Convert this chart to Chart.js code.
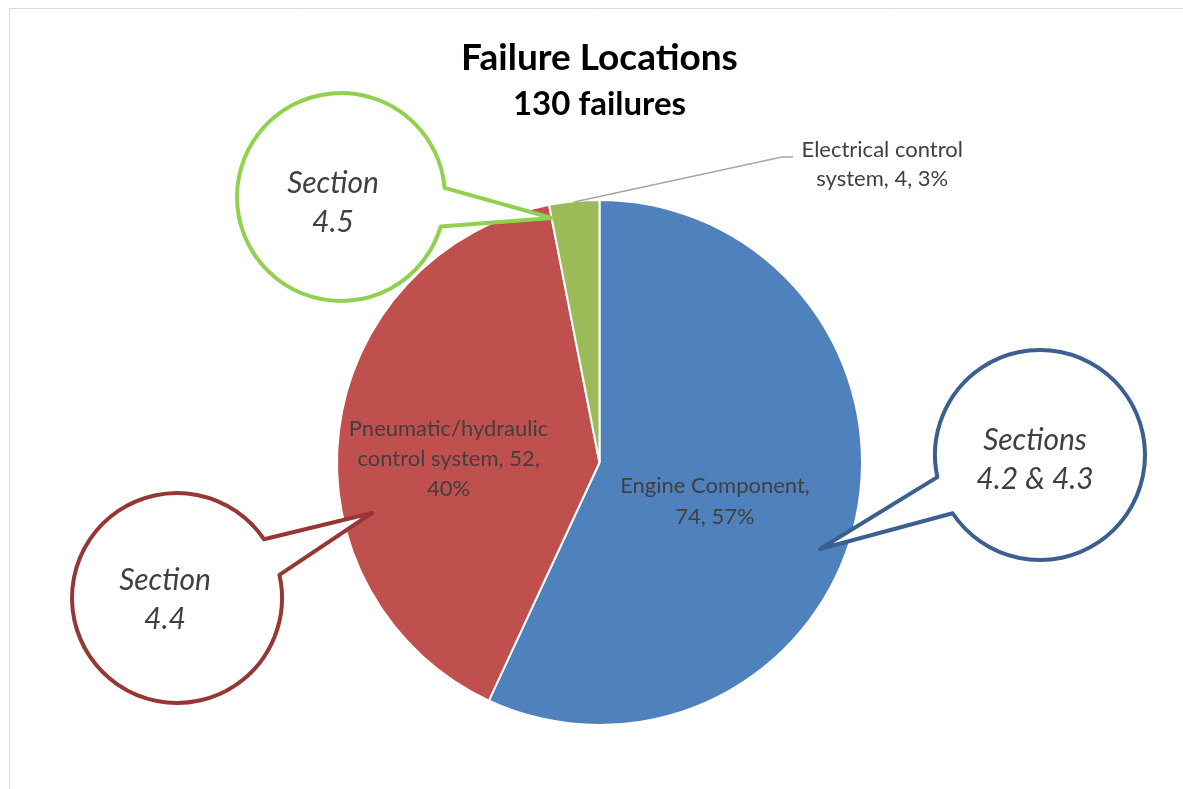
<!DOCTYPE html>
<html>
<head>
<meta charset="utf-8">
<script src="https://cdn.jsdelivr.net/npm/chart.js@4/dist/chart.umd.min.js"></script>
<style>
  html, body { margin: 0; padding: 0; background: #fff; }
  canvas { display: block; }
</style>
</head>
<body>
<canvas id="failureChart" width="1183" height="789"></canvas>
<script>
const categories = ['Engine Component', 'Pneumatic/hydraulic control system', 'Electrical control system'];
const failureCounts = [74, 52, 4];
const sliceColors = ['#4F81BD', '#C0504D', '#9BBB59'];
const titleLines = ['Failure Locations', '130 failures'];
const calloutTexts = [['Sections', '4.2 & 4.3'], ['Section', '4.4'], ['Section', '4.5']];

const totalFailures = failureCounts.reduce((a, b) => a + b, 0);
const labelColor = '#404040';

// wrap "name, count, pct%" into lines no wider than maxWidth
function wrapWords(ctx, text, maxWidth) {
  const words = text.split(' ');
  const lines = [];
  let line = '';
  words.forEach(w => {
    const test = line ? line + ' ' + w : w;
    if (line && ctx.measureText(test).width > maxWidth) {
      lines.push(line);
      line = w;
    } else {
      line = test;
    }
  });
  if (line) lines.push(line);
  return lines;
}

function drawBubble(ctx, c) {
  const a1 = Math.atan2(c.base1[1] - c.y, c.base1[0] - c.x);
  const a2 = Math.atan2(c.base2[1] - c.y, c.base2[0] - c.x);
  let diff = ((a2 - a1) % (2 * Math.PI) + 2 * Math.PI) % (2 * Math.PI);
  ctx.beginPath();
  ctx.moveTo(c.tip[0], c.tip[1]);
  ctx.lineTo(c.x + c.r * Math.cos(a1), c.y + c.r * Math.sin(a1));
  ctx.arc(c.x, c.y, c.r, a1, a2, diff < Math.PI);
  ctx.closePath();
  ctx.fillStyle = '#fff';
  ctx.fill();
  ctx.lineWidth = 4;
  ctx.lineJoin = 'round';
  ctx.strokeStyle = c.color;
  ctx.stroke();

  ctx.fillStyle = labelColor;
  ctx.font = 'italic 30px Lato';
  ctx.textAlign = 'center';
  ctx.textBaseline = 'middle';
  c.text.forEach((t, i) => ctx.fillText(t, c.tx, c.ty + i * 39));
}

const decorPlugin = {
  id: 'decor',
  beforeDraw(chart) {
    const ctx = chart.ctx;
    ctx.save();
    ctx.strokeStyle = '#D9D9D9';
    ctx.lineWidth = 1;
    ctx.beginPath();
    ctx.moveTo(9.5, chart.height);
    ctx.lineTo(9.5, 8.5);
    ctx.lineTo(chart.width, 8.5);
    ctx.stroke();
    ctx.restore();
  },
  afterDraw(chart, args, opts) {
    const ctx = chart.ctx;
    const meta = chart.getDatasetMeta(0);
    const arc0 = meta.data[0];
    const cx = arc0.x, cy = arc0.y, R = arc0.outerRadius;

    ctx.save();
    // title
    ctx.fillStyle = '#000';
    ctx.textAlign = 'center';
    ctx.textBaseline = 'alphabetic';
    ctx.font = 'bold 37px Lato';
    ctx.fillText(titleLines[0], cx, 70);
    ctx.font = 'bold 33px Lato';
    ctx.fillText(titleLines[1], cx, 115);

    // leader line for the small slice
    ctx.strokeStyle = '#A6A6A6';
    ctx.lineWidth = 1.3;
    ctx.beginPath();
    ctx.moveTo(574, 202);
    ctx.lineTo(782, 157);
    ctx.lineTo(793, 157);
    ctx.stroke();

    // data labels
    ctx.font = '22px Lato';
    ctx.fillStyle = labelColor;
    ctx.textBaseline = 'middle';
    failureCounts.forEach((v, i) => {
      const pct = Math.round(v / totalFailures * 100);
      const text = `${categories[i]}, ${v}, ${pct}%`;
      const p = opts.labels[i];
      const lines = wrapWords(ctx, text, p.maxWidth);
      const x = cx + p.dx * R;
      const y0 = cy + p.dy * R - (lines.length - 1) * p.lineHeight / 2;
      lines.forEach((l, k) => ctx.fillText(l, x, y0 + k * p.lineHeight));
    });

    // callout bubbles
    opts.callouts.forEach((c, i) => drawBubble(ctx, { ...c, text: calloutTexts[i] }));
    ctx.restore();
  }
};

const ctx = document.getElementById('failureChart').getContext('2d');
const failureChart = new Chart(ctx, {
  type: 'pie',
  data: {
    labels: categories,
    datasets: [{
      data: failureCounts,
      backgroundColor: sliceColors,
      borderColor: '#fff',
      borderWidth: 2,
    }],
  },
  options: {
    responsive: false,
    animation: false,
    devicePixelRatio: 1,
    layout: { padding: { top: 199, bottom: 63, left: 336, right: 320 } },
    plugins: {
      legend: { display: false },
      tooltip: { enabled: false },
      decor: {
        labels: [
          { dx: 0.44, dy: 0.15, maxWidth: 205, lineHeight: 31 },
          { dx: -0.575, dy: -0.015, maxWidth: 212, lineHeight: 30 },
          { dx: 1.077, dy: -1.137, maxWidth: 180, lineHeight: 29 },
        ],
        callouts: [
          { x: 1040, y: 455, r: 105, tip: [820, 549], base1: [953, 513], base2: [938, 477], color: '#3B5F8F', tx: 1035, ty: 440 },
          { x: 177, y: 598, r: 105, tip: [372, 513], base1: [263, 540], base2: [279, 575], color: '#953735', tx: 165, ty: 580 },
          { x: 341, y: 197, r: 104, tip: [552, 218], base1: [442, 227], base2: [443, 188], color: '#92D050', tx: 333, ty: 183 },
        ],
      },
    },
  },
  plugins: [decorPlugin],
});
</script>
</body>
</html>
